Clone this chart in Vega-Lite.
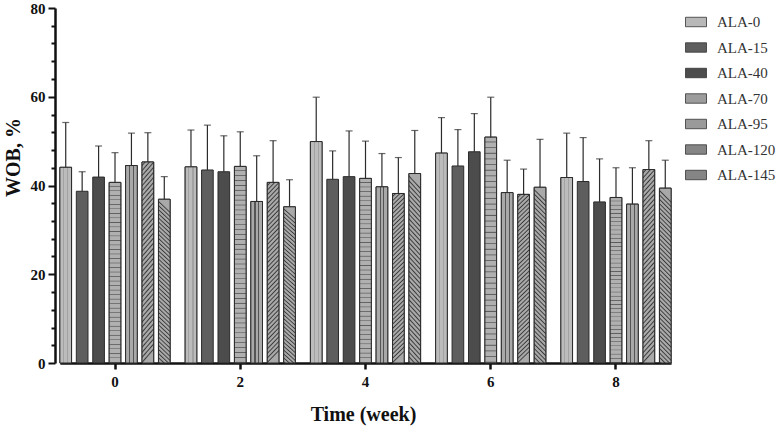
{
"$schema": "https://vega.github.io/schema/vega-lite/v6.json",
"width": 631,
"height": 355,
"autosize": {"type": "none"},
"padding": {"left": 47, "top": 8, "right": 99, "bottom": 68},
"background": "white",
"config": {"view": {"stroke": null},
  "axisY": {"tickWidth": 2, "tickColor": "#111", "domainColor": "#111", "domainWidth": 2.5, "grid": false, "offset": -8,
       "labelFont": "Liberation Serif", "labelFontWeight": "bold", "labelFontSize": 15, "labelColor": "#111", "labelPadding": 3,
       "titleFont": "Liberation Serif", "titleFontSize": 20, "titleFontWeight": "bold", "titleColor": "#111",
       "titleAngle": 270, "titleX": -36, "titleY": 149, "titleBaseline": "alphabetic", "titleAlign": "center"}},
"data": {"values": [
{"week":"0","series":"ALA-0","value":44.1,"upper":54.2},
{"week":"0","series":"ALA-15","value":38.7,"upper":43.1},
{"week":"0","series":"ALA-40","value":41.9,"upper":48.9},
{"week":"0","series":"ALA-70","value":40.7,"upper":47.4},
{"week":"0","series":"ALA-95","value":44.5,"upper":51.8},
{"week":"0","series":"ALA-120","value":45.3,"upper":51.9},
{"week":"0","series":"ALA-145","value":36.9,"upper":42.0},
{"week":"2","series":"ALA-0","value":44.2,"upper":52.5},
{"week":"2","series":"ALA-15","value":43.5,"upper":53.6},
{"week":"2","series":"ALA-40","value":43.1,"upper":51.2},
{"week":"2","series":"ALA-70","value":44.3,"upper":52.1},
{"week":"2","series":"ALA-95","value":36.4,"upper":46.7},
{"week":"2","series":"ALA-120","value":40.7,"upper":50.1},
{"week":"2","series":"ALA-145","value":35.2,"upper":41.3},
{"week":"4","series":"ALA-0","value":49.9,"upper":59.9},
{"week":"4","series":"ALA-15","value":41.4,"upper":47.8},
{"week":"4","series":"ALA-40","value":42.0,"upper":52.3},
{"week":"4","series":"ALA-70","value":41.6,"upper":50.0},
{"week":"4","series":"ALA-95","value":39.7,"upper":47.2},
{"week":"4","series":"ALA-120","value":38.2,"upper":46.3},
{"week":"4","series":"ALA-145","value":42.7,"upper":52.4},
{"week":"6","series":"ALA-0","value":47.3,"upper":55.3},
{"week":"6","series":"ALA-15","value":44.4,"upper":52.6},
{"week":"6","series":"ALA-40","value":47.6,"upper":56.2},
{"week":"6","series":"ALA-70","value":50.9,"upper":59.9},
{"week":"6","series":"ALA-95","value":38.4,"upper":45.7},
{"week":"6","series":"ALA-120","value":38.0,"upper":43.7},
{"week":"6","series":"ALA-145","value":39.6,"upper":50.4},
{"week":"8","series":"ALA-0","value":41.8,"upper":51.8},
{"week":"8","series":"ALA-15","value":40.9,"upper":50.8},
{"week":"8","series":"ALA-40","value":36.3,"upper":46.0},
{"week":"8","series":"ALA-70","value":37.3,"upper":44.0},
{"week":"8","series":"ALA-95","value":35.8,"upper":44.0},
{"week":"8","series":"ALA-120","value":43.6,"upper":50.1},
{"week":"8","series":"ALA-145","value":39.4,"upper":45.7}
]},
"encoding": {
  "x": {"field": "week", "type": "nominal", "sort": ["0","2","4","6","8"],
    "scale": {"range": [12.9, 624.1], "paddingInner": 0.12, "paddingOuter": 0},
    "title": "Time (week)",
    "axis": {"labelAngle": 0, "labelFont": "Liberation Serif", "labelFontWeight": "bold", "labelFontSize": 15, "labelColor": "#111",
      "tickSize": 6, "tickWidth": 2.5, "tickColor": "#111", "domainColor": "#111", "domainWidth": 2.5, "labelPadding": 5,
      "titleFont": "Liberation Serif", "titleFontSize": 20, "titleFontWeight": "bold", "titleColor": "#111",
      "titleY": 57, "titleBaseline": "alphabetic", "titleX": 316, "titleAlign": "center"}},
  "xOffset": {"field": "series", "type": "nominal",
    "scale": {"domain": ["ALA-0","ALA-15","ALA-40","ALA-70","ALA-95","ALA-120","ALA-145"], "paddingInner": 0.29, "paddingOuter": 0}}
},
"layer": [
 {"mark": {"type": "bar", "stroke": "#2b2b2b", "strokeWidth": 1},
  "encoding": {
   "y": {"field": "value", "type": "quantitative", "title": "WOB, %", "scale": {"domain": [0, 80], "nice": false},
     "axis": {"values": [0,4,8,12,16,20,24,28,32,36,40,44,48,52,56,60,64,68,72,76,80], "labelExpr": "datum.value % 20 == 0 ? datum.label : ''", "tickSize": {"condition": {"test": "datum.value % 20 == 0", "value": 7}, "value": 4}}},
   "color": {"field": "series", "type": "nominal",
     "scale": {"domain": ["ALA-0","ALA-15","ALA-40","ALA-70","ALA-95","ALA-120","ALA-145"],
       "range": ["#b8b8b8", "#5e5e5e", "#4c4c4c", "#9c9c9c", "#9a9a9a", "#858585", "#858585"]},
     "legend": {"orient": "none", "legendX": 638, "legendY": 3, "title": null,
       "symbolType": "M-1,-0.45H1V0.45H-1Z", "symbolSize": 441, "symbolStrokeColor": "#333", "symbolStrokeWidth": 0.8,
       "labelFont": "Liberation Serif", "labelFontSize": 15, "labelColor": "#333", "labelOffset": 10, "rowPadding": 6.5}}
  }},
 {"transform": [{"filter": "datum.series === 'ALA-0'"}],
  "mark": {"type": "bar", "stroke": "#2b2b2b", "strokeWidth": 1,
   "fill": {"gradient":"linear","x1":0,"y1":0,"x2":1,"y2":0,"stops":[{"offset":0,"color":"#bcbcbc"},{"offset":0.27,"color":"#bcbcbc"},{"offset":0.27,"color":"#a2a2a2"},{"offset":0.37,"color":"#a2a2a2"},{"offset":0.37,"color":"#bcbcbc"},{"offset":0.62,"color":"#bcbcbc"},{"offset":0.62,"color":"#a2a2a2"},{"offset":0.72,"color":"#a2a2a2"},{"offset":0.72,"color":"#bcbcbc"},{"offset":1,"color":"#bcbcbc"}]}},
  "encoding": {"y": {"field": "value", "type": "quantitative", "title": "WOB, %",
     "axis": {"values": [0,4,8,12,16,20,24,28,32,36,40,44,48,52,56,60,64,68,72,76,80], "labelExpr": "datum.value % 20 == 0 ? datum.label : ''", "tickSize": {"condition": {"test": "datum.value % 20 == 0", "value": 7}, "value": 4}}}}},
 {"transform": [{"filter": "datum.series === 'ALA-95'"}],
  "mark": {"type": "bar", "stroke": "#2b2b2b", "strokeWidth": 1,
   "fill": {"gradient":"linear","x1":0,"y1":0,"x2":1,"y2":0,"stops":[{"offset":0,"color":"#a9a9a9"},{"offset":0.3,"color":"#a9a9a9"},{"offset":0.3,"color":"#555555"},{"offset":0.4,"color":"#555555"},{"offset":0.4,"color":"#a9a9a9"},{"offset":0.62,"color":"#a9a9a9"},{"offset":0.62,"color":"#555555"},{"offset":0.72,"color":"#555555"},{"offset":0.72,"color":"#a9a9a9"},{"offset":1,"color":"#a9a9a9"}]}},
  "encoding": {"y": {"field": "value", "type": "quantitative", "title": "WOB, %",
     "axis": {"values": [0,4,8,12,16,20,24,28,32,36,40,44,48,52,56,60,64,68,72,76,80], "labelExpr": "datum.value % 20 == 0 ? datum.label : ''", "tickSize": {"condition": {"test": "datum.value % 20 == 0", "value": 7}, "value": 4}}}}},
 {"transform": [{"filter": "datum.series === 'ALA-70'"}],
  "mark": {"type": "bar", "stroke": "#2b2b2b", "strokeWidth": 1,
   "fill": {"gradient":"linear","x1":0,"y1":0,"x2":0,"y2":1,"stops":[
{"offset":0,"color":"#b0b0b0"},{"offset":0.017,"color":"#b0b0b0"},{"offset":0.022,"color":"#5c5c5c"},
{"offset":0.025,"color":"#b0b0b0"},{"offset":0.042,"color":"#b0b0b0"},{"offset":0.047,"color":"#5c5c5c"},
{"offset":0.05,"color":"#b0b0b0"},{"offset":0.067,"color":"#b0b0b0"},{"offset":0.072,"color":"#5c5c5c"},
{"offset":0.075,"color":"#b0b0b0"},{"offset":0.092,"color":"#b0b0b0"},{"offset":0.097,"color":"#5c5c5c"},
{"offset":0.1,"color":"#b0b0b0"},{"offset":0.117,"color":"#b0b0b0"},{"offset":0.122,"color":"#5c5c5c"},
{"offset":0.125,"color":"#b0b0b0"},{"offset":0.142,"color":"#b0b0b0"},{"offset":0.147,"color":"#5c5c5c"},
{"offset":0.15,"color":"#b0b0b0"},{"offset":0.167,"color":"#b0b0b0"},{"offset":0.172,"color":"#5c5c5c"},
{"offset":0.175,"color":"#b0b0b0"},{"offset":0.192,"color":"#b0b0b0"},{"offset":0.197,"color":"#5c5c5c"},
{"offset":0.2,"color":"#b0b0b0"},{"offset":0.217,"color":"#b0b0b0"},{"offset":0.222,"color":"#5c5c5c"},
{"offset":0.225,"color":"#b0b0b0"},{"offset":0.242,"color":"#b0b0b0"},{"offset":0.247,"color":"#5c5c5c"},
{"offset":0.25,"color":"#b0b0b0"},{"offset":0.267,"color":"#b0b0b0"},{"offset":0.272,"color":"#5c5c5c"},
{"offset":0.275,"color":"#b0b0b0"},{"offset":0.292,"color":"#b0b0b0"},{"offset":0.297,"color":"#5c5c5c"},
{"offset":0.3,"color":"#b0b0b0"},{"offset":0.317,"color":"#b0b0b0"},{"offset":0.322,"color":"#5c5c5c"},
{"offset":0.325,"color":"#b0b0b0"},{"offset":0.342,"color":"#b0b0b0"},{"offset":0.347,"color":"#5c5c5c"},
{"offset":0.35,"color":"#b0b0b0"},{"offset":0.367,"color":"#b0b0b0"},{"offset":0.372,"color":"#5c5c5c"},
{"offset":0.375,"color":"#b0b0b0"},{"offset":0.392,"color":"#b0b0b0"},{"offset":0.397,"color":"#5c5c5c"},
{"offset":0.4,"color":"#b0b0b0"},{"offset":0.417,"color":"#b0b0b0"},{"offset":0.422,"color":"#5c5c5c"},
{"offset":0.425,"color":"#b0b0b0"},{"offset":0.442,"color":"#b0b0b0"},{"offset":0.447,"color":"#5c5c5c"},
{"offset":0.45,"color":"#b0b0b0"},{"offset":0.467,"color":"#b0b0b0"},{"offset":0.472,"color":"#5c5c5c"},
{"offset":0.475,"color":"#b0b0b0"},{"offset":0.492,"color":"#b0b0b0"},{"offset":0.497,"color":"#5c5c5c"},
{"offset":0.5,"color":"#b0b0b0"},{"offset":0.517,"color":"#b0b0b0"},{"offset":0.522,"color":"#5c5c5c"},
{"offset":0.525,"color":"#b0b0b0"},{"offset":0.542,"color":"#b0b0b0"},{"offset":0.547,"color":"#5c5c5c"},
{"offset":0.55,"color":"#b0b0b0"},{"offset":0.567,"color":"#b0b0b0"},{"offset":0.572,"color":"#5c5c5c"},
{"offset":0.575,"color":"#b0b0b0"},{"offset":0.592,"color":"#b0b0b0"},{"offset":0.597,"color":"#5c5c5c"},
{"offset":0.6,"color":"#b0b0b0"},{"offset":0.617,"color":"#b0b0b0"},{"offset":0.622,"color":"#5c5c5c"},
{"offset":0.625,"color":"#b0b0b0"},{"offset":0.642,"color":"#b0b0b0"},{"offset":0.647,"color":"#5c5c5c"},
{"offset":0.65,"color":"#b0b0b0"},{"offset":0.667,"color":"#b0b0b0"},{"offset":0.672,"color":"#5c5c5c"},
{"offset":0.675,"color":"#b0b0b0"},{"offset":0.692,"color":"#b0b0b0"},{"offset":0.697,"color":"#5c5c5c"},
{"offset":0.7,"color":"#b0b0b0"},{"offset":0.717,"color":"#b0b0b0"},{"offset":0.722,"color":"#5c5c5c"},
{"offset":0.725,"color":"#b0b0b0"},{"offset":0.742,"color":"#b0b0b0"},{"offset":0.747,"color":"#5c5c5c"},
{"offset":0.75,"color":"#b0b0b0"},{"offset":0.767,"color":"#b0b0b0"},{"offset":0.772,"color":"#5c5c5c"},
{"offset":0.775,"color":"#b0b0b0"},{"offset":0.792,"color":"#b0b0b0"},{"offset":0.797,"color":"#5c5c5c"},
{"offset":0.8,"color":"#b0b0b0"},{"offset":0.817,"color":"#b0b0b0"},{"offset":0.822,"color":"#5c5c5c"},
{"offset":0.825,"color":"#b0b0b0"},{"offset":0.842,"color":"#b0b0b0"},{"offset":0.847,"color":"#5c5c5c"},
{"offset":0.85,"color":"#b0b0b0"},{"offset":0.867,"color":"#b0b0b0"},{"offset":0.872,"color":"#5c5c5c"},
{"offset":0.875,"color":"#b0b0b0"},{"offset":0.892,"color":"#b0b0b0"},{"offset":0.897,"color":"#5c5c5c"},
{"offset":0.9,"color":"#b0b0b0"},{"offset":0.917,"color":"#b0b0b0"},{"offset":0.922,"color":"#5c5c5c"},
{"offset":0.925,"color":"#b0b0b0"},{"offset":0.942,"color":"#b0b0b0"},{"offset":0.947,"color":"#5c5c5c"},
{"offset":0.95,"color":"#b0b0b0"},{"offset":0.967,"color":"#b0b0b0"},{"offset":0.972,"color":"#5c5c5c"},
{"offset":0.975,"color":"#b0b0b0"},{"offset":0.992,"color":"#b0b0b0"},{"offset":0.997,"color":"#5c5c5c"},
{"offset":1,"color":"#b0b0b0"}]}},
  "encoding": {"y": {"field": "value", "type": "quantitative", "title": "WOB, %",
     "axis": {"values": [0,4,8,12,16,20,24,28,32,36,40,44,48,52,56,60,64,68,72,76,80], "labelExpr": "datum.value % 20 == 0 ? datum.label : ''", "tickSize": {"condition": {"test": "datum.value % 20 == 0", "value": 7}, "value": 4}}}}},
 {"transform": [{"filter": "datum.series === 'ALA-120'"}],
  "mark": {"type": "bar", "stroke": "#2b2b2b", "strokeWidth": 1,
   "fill": {"gradient":"linear","x1":0,"y1":0,"x2":0.067,"y2":1,"stops":[
{"offset":0,"color":"#a9a9a9"},{"offset":0.01,"color":"#a9a9a9"},{"offset":0.018,"color":"#3a3a3a"},
{"offset":0.025,"color":"#a9a9a9"},{"offset":0.035,"color":"#a9a9a9"},{"offset":0.043,"color":"#3a3a3a"},
{"offset":0.05,"color":"#a9a9a9"},{"offset":0.06,"color":"#a9a9a9"},{"offset":0.068,"color":"#3a3a3a"},
{"offset":0.075,"color":"#a9a9a9"},{"offset":0.085,"color":"#a9a9a9"},{"offset":0.093,"color":"#3a3a3a"},
{"offset":0.1,"color":"#a9a9a9"},{"offset":0.11,"color":"#a9a9a9"},{"offset":0.118,"color":"#3a3a3a"},
{"offset":0.125,"color":"#a9a9a9"},{"offset":0.135,"color":"#a9a9a9"},{"offset":0.143,"color":"#3a3a3a"},
{"offset":0.15,"color":"#a9a9a9"},{"offset":0.16,"color":"#a9a9a9"},{"offset":0.168,"color":"#3a3a3a"},
{"offset":0.175,"color":"#a9a9a9"},{"offset":0.185,"color":"#a9a9a9"},{"offset":0.193,"color":"#3a3a3a"},
{"offset":0.2,"color":"#a9a9a9"},{"offset":0.21,"color":"#a9a9a9"},{"offset":0.218,"color":"#3a3a3a"},
{"offset":0.225,"color":"#a9a9a9"},{"offset":0.235,"color":"#a9a9a9"},{"offset":0.243,"color":"#3a3a3a"},
{"offset":0.25,"color":"#a9a9a9"},{"offset":0.26,"color":"#a9a9a9"},{"offset":0.268,"color":"#3a3a3a"},
{"offset":0.275,"color":"#a9a9a9"},{"offset":0.285,"color":"#a9a9a9"},{"offset":0.293,"color":"#3a3a3a"},
{"offset":0.3,"color":"#a9a9a9"},{"offset":0.31,"color":"#a9a9a9"},{"offset":0.318,"color":"#3a3a3a"},
{"offset":0.325,"color":"#a9a9a9"},{"offset":0.335,"color":"#a9a9a9"},{"offset":0.343,"color":"#3a3a3a"},
{"offset":0.35,"color":"#a9a9a9"},{"offset":0.36,"color":"#a9a9a9"},{"offset":0.368,"color":"#3a3a3a"},
{"offset":0.375,"color":"#a9a9a9"},{"offset":0.385,"color":"#a9a9a9"},{"offset":0.393,"color":"#3a3a3a"},
{"offset":0.4,"color":"#a9a9a9"},{"offset":0.41,"color":"#a9a9a9"},{"offset":0.418,"color":"#3a3a3a"},
{"offset":0.425,"color":"#a9a9a9"},{"offset":0.435,"color":"#a9a9a9"},{"offset":0.443,"color":"#3a3a3a"},
{"offset":0.45,"color":"#a9a9a9"},{"offset":0.46,"color":"#a9a9a9"},{"offset":0.468,"color":"#3a3a3a"},
{"offset":0.475,"color":"#a9a9a9"},{"offset":0.485,"color":"#a9a9a9"},{"offset":0.493,"color":"#3a3a3a"},
{"offset":0.5,"color":"#a9a9a9"},{"offset":0.51,"color":"#a9a9a9"},{"offset":0.518,"color":"#3a3a3a"},
{"offset":0.525,"color":"#a9a9a9"},{"offset":0.535,"color":"#a9a9a9"},{"offset":0.543,"color":"#3a3a3a"},
{"offset":0.55,"color":"#a9a9a9"},{"offset":0.56,"color":"#a9a9a9"},{"offset":0.568,"color":"#3a3a3a"},
{"offset":0.575,"color":"#a9a9a9"},{"offset":0.585,"color":"#a9a9a9"},{"offset":0.593,"color":"#3a3a3a"},
{"offset":0.6,"color":"#a9a9a9"},{"offset":0.61,"color":"#a9a9a9"},{"offset":0.618,"color":"#3a3a3a"},
{"offset":0.625,"color":"#a9a9a9"},{"offset":0.635,"color":"#a9a9a9"},{"offset":0.643,"color":"#3a3a3a"},
{"offset":0.65,"color":"#a9a9a9"},{"offset":0.66,"color":"#a9a9a9"},{"offset":0.668,"color":"#3a3a3a"},
{"offset":0.675,"color":"#a9a9a9"},{"offset":0.685,"color":"#a9a9a9"},{"offset":0.693,"color":"#3a3a3a"},
{"offset":0.7,"color":"#a9a9a9"},{"offset":0.71,"color":"#a9a9a9"},{"offset":0.718,"color":"#3a3a3a"},
{"offset":0.725,"color":"#a9a9a9"},{"offset":0.735,"color":"#a9a9a9"},{"offset":0.743,"color":"#3a3a3a"},
{"offset":0.75,"color":"#a9a9a9"},{"offset":0.76,"color":"#a9a9a9"},{"offset":0.768,"color":"#3a3a3a"},
{"offset":0.775,"color":"#a9a9a9"},{"offset":0.785,"color":"#a9a9a9"},{"offset":0.793,"color":"#3a3a3a"},
{"offset":0.8,"color":"#a9a9a9"},{"offset":0.81,"color":"#a9a9a9"},{"offset":0.818,"color":"#3a3a3a"},
{"offset":0.825,"color":"#a9a9a9"},{"offset":0.835,"color":"#a9a9a9"},{"offset":0.843,"color":"#3a3a3a"},
{"offset":0.85,"color":"#a9a9a9"},{"offset":0.86,"color":"#a9a9a9"},{"offset":0.868,"color":"#3a3a3a"},
{"offset":0.875,"color":"#a9a9a9"},{"offset":0.885,"color":"#a9a9a9"},{"offset":0.893,"color":"#3a3a3a"},
{"offset":0.9,"color":"#a9a9a9"},{"offset":0.91,"color":"#a9a9a9"},{"offset":0.918,"color":"#3a3a3a"},
{"offset":0.925,"color":"#a9a9a9"},{"offset":0.935,"color":"#a9a9a9"},{"offset":0.943,"color":"#3a3a3a"},
{"offset":0.95,"color":"#a9a9a9"},{"offset":0.96,"color":"#a9a9a9"},{"offset":0.968,"color":"#3a3a3a"},
{"offset":0.975,"color":"#a9a9a9"},{"offset":0.985,"color":"#a9a9a9"},{"offset":0.993,"color":"#3a3a3a"},
{"offset":1,"color":"#a9a9a9"}]}},
  "encoding": {"y": {"field": "value", "type": "quantitative", "title": "WOB, %",
     "axis": {"values": [0,4,8,12,16,20,24,28,32,36,40,44,48,52,56,60,64,68,72,76,80], "labelExpr": "datum.value % 20 == 0 ? datum.label : ''", "tickSize": {"condition": {"test": "datum.value % 20 == 0", "value": 7}, "value": 4}}}}},
 {"transform": [{"filter": "datum.series === 'ALA-145'"}],
  "mark": {"type": "bar", "stroke": "#2b2b2b", "strokeWidth": 1,
   "fill": {"gradient":"linear","x1":0.067,"y1":0,"x2":0,"y2":1,"stops":[
{"offset":0,"color":"#a9a9a9"},{"offset":0.01,"color":"#a9a9a9"},{"offset":0.018,"color":"#3a3a3a"},
{"offset":0.025,"color":"#a9a9a9"},{"offset":0.035,"color":"#a9a9a9"},{"offset":0.043,"color":"#3a3a3a"},
{"offset":0.05,"color":"#a9a9a9"},{"offset":0.06,"color":"#a9a9a9"},{"offset":0.068,"color":"#3a3a3a"},
{"offset":0.075,"color":"#a9a9a9"},{"offset":0.085,"color":"#a9a9a9"},{"offset":0.093,"color":"#3a3a3a"},
{"offset":0.1,"color":"#a9a9a9"},{"offset":0.11,"color":"#a9a9a9"},{"offset":0.118,"color":"#3a3a3a"},
{"offset":0.125,"color":"#a9a9a9"},{"offset":0.135,"color":"#a9a9a9"},{"offset":0.143,"color":"#3a3a3a"},
{"offset":0.15,"color":"#a9a9a9"},{"offset":0.16,"color":"#a9a9a9"},{"offset":0.168,"color":"#3a3a3a"},
{"offset":0.175,"color":"#a9a9a9"},{"offset":0.185,"color":"#a9a9a9"},{"offset":0.193,"color":"#3a3a3a"},
{"offset":0.2,"color":"#a9a9a9"},{"offset":0.21,"color":"#a9a9a9"},{"offset":0.218,"color":"#3a3a3a"},
{"offset":0.225,"color":"#a9a9a9"},{"offset":0.235,"color":"#a9a9a9"},{"offset":0.243,"color":"#3a3a3a"},
{"offset":0.25,"color":"#a9a9a9"},{"offset":0.26,"color":"#a9a9a9"},{"offset":0.268,"color":"#3a3a3a"},
{"offset":0.275,"color":"#a9a9a9"},{"offset":0.285,"color":"#a9a9a9"},{"offset":0.293,"color":"#3a3a3a"},
{"offset":0.3,"color":"#a9a9a9"},{"offset":0.31,"color":"#a9a9a9"},{"offset":0.318,"color":"#3a3a3a"},
{"offset":0.325,"color":"#a9a9a9"},{"offset":0.335,"color":"#a9a9a9"},{"offset":0.343,"color":"#3a3a3a"},
{"offset":0.35,"color":"#a9a9a9"},{"offset":0.36,"color":"#a9a9a9"},{"offset":0.368,"color":"#3a3a3a"},
{"offset":0.375,"color":"#a9a9a9"},{"offset":0.385,"color":"#a9a9a9"},{"offset":0.393,"color":"#3a3a3a"},
{"offset":0.4,"color":"#a9a9a9"},{"offset":0.41,"color":"#a9a9a9"},{"offset":0.418,"color":"#3a3a3a"},
{"offset":0.425,"color":"#a9a9a9"},{"offset":0.435,"color":"#a9a9a9"},{"offset":0.443,"color":"#3a3a3a"},
{"offset":0.45,"color":"#a9a9a9"},{"offset":0.46,"color":"#a9a9a9"},{"offset":0.468,"color":"#3a3a3a"},
{"offset":0.475,"color":"#a9a9a9"},{"offset":0.485,"color":"#a9a9a9"},{"offset":0.493,"color":"#3a3a3a"},
{"offset":0.5,"color":"#a9a9a9"},{"offset":0.51,"color":"#a9a9a9"},{"offset":0.518,"color":"#3a3a3a"},
{"offset":0.525,"color":"#a9a9a9"},{"offset":0.535,"color":"#a9a9a9"},{"offset":0.543,"color":"#3a3a3a"},
{"offset":0.55,"color":"#a9a9a9"},{"offset":0.56,"color":"#a9a9a9"},{"offset":0.568,"color":"#3a3a3a"},
{"offset":0.575,"color":"#a9a9a9"},{"offset":0.585,"color":"#a9a9a9"},{"offset":0.593,"color":"#3a3a3a"},
{"offset":0.6,"color":"#a9a9a9"},{"offset":0.61,"color":"#a9a9a9"},{"offset":0.618,"color":"#3a3a3a"},
{"offset":0.625,"color":"#a9a9a9"},{"offset":0.635,"color":"#a9a9a9"},{"offset":0.643,"color":"#3a3a3a"},
{"offset":0.65,"color":"#a9a9a9"},{"offset":0.66,"color":"#a9a9a9"},{"offset":0.668,"color":"#3a3a3a"},
{"offset":0.675,"color":"#a9a9a9"},{"offset":0.685,"color":"#a9a9a9"},{"offset":0.693,"color":"#3a3a3a"},
{"offset":0.7,"color":"#a9a9a9"},{"offset":0.71,"color":"#a9a9a9"},{"offset":0.718,"color":"#3a3a3a"},
{"offset":0.725,"color":"#a9a9a9"},{"offset":0.735,"color":"#a9a9a9"},{"offset":0.743,"color":"#3a3a3a"},
{"offset":0.75,"color":"#a9a9a9"},{"offset":0.76,"color":"#a9a9a9"},{"offset":0.768,"color":"#3a3a3a"},
{"offset":0.775,"color":"#a9a9a9"},{"offset":0.785,"color":"#a9a9a9"},{"offset":0.793,"color":"#3a3a3a"},
{"offset":0.8,"color":"#a9a9a9"},{"offset":0.81,"color":"#a9a9a9"},{"offset":0.818,"color":"#3a3a3a"},
{"offset":0.825,"color":"#a9a9a9"},{"offset":0.835,"color":"#a9a9a9"},{"offset":0.843,"color":"#3a3a3a"},
{"offset":0.85,"color":"#a9a9a9"},{"offset":0.86,"color":"#a9a9a9"},{"offset":0.868,"color":"#3a3a3a"},
{"offset":0.875,"color":"#a9a9a9"},{"offset":0.885,"color":"#a9a9a9"},{"offset":0.893,"color":"#3a3a3a"},
{"offset":0.9,"color":"#a9a9a9"},{"offset":0.91,"color":"#a9a9a9"},{"offset":0.918,"color":"#3a3a3a"},
{"offset":0.925,"color":"#a9a9a9"},{"offset":0.935,"color":"#a9a9a9"},{"offset":0.943,"color":"#3a3a3a"},
{"offset":0.95,"color":"#a9a9a9"},{"offset":0.96,"color":"#a9a9a9"},{"offset":0.968,"color":"#3a3a3a"},
{"offset":0.975,"color":"#a9a9a9"},{"offset":0.985,"color":"#a9a9a9"},{"offset":0.993,"color":"#3a3a3a"},
{"offset":1,"color":"#a9a9a9"}]}},
  "encoding": {"y": {"field": "value", "type": "quantitative", "title": "WOB, %",
     "axis": {"values": [0,4,8,12,16,20,24,28,32,36,40,44,48,52,56,60,64,68,72,76,80], "labelExpr": "datum.value % 20 == 0 ? datum.label : ''", "tickSize": {"condition": {"test": "datum.value % 20 == 0", "value": 7}, "value": 4}}}}},
 {"mark": {"type": "rule", "color": "#2b2b2b", "strokeWidth": 1.2},
  "encoding": {"y": {"field": "value", "type": "quantitative", "title": "WOB, %",
     "axis": {"values": [0,4,8,12,16,20,24,28,32,36,40,44,48,52,56,60,64,68,72,76,80], "labelExpr": "datum.value % 20 == 0 ? datum.label : ''", "tickSize": {"condition": {"test": "datum.value % 20 == 0", "value": 7}, "value": 4}}}, "y2": {"field": "upper"}}},
 {"mark": {"type": "tick", "color": "#2b2b2b", "thickness": 1.2, "size": 7},
  "encoding": {"y": {"field": "upper", "type": "quantitative", "title": "WOB, %",
     "axis": {"values": [0,4,8,12,16,20,24,28,32,36,40,44,48,52,56,60,64,68,72,76,80], "labelExpr": "datum.value % 20 == 0 ? datum.label : ''", "tickSize": {"condition": {"test": "datum.value % 20 == 0", "value": 7}, "value": 4}}}}}
]
}
